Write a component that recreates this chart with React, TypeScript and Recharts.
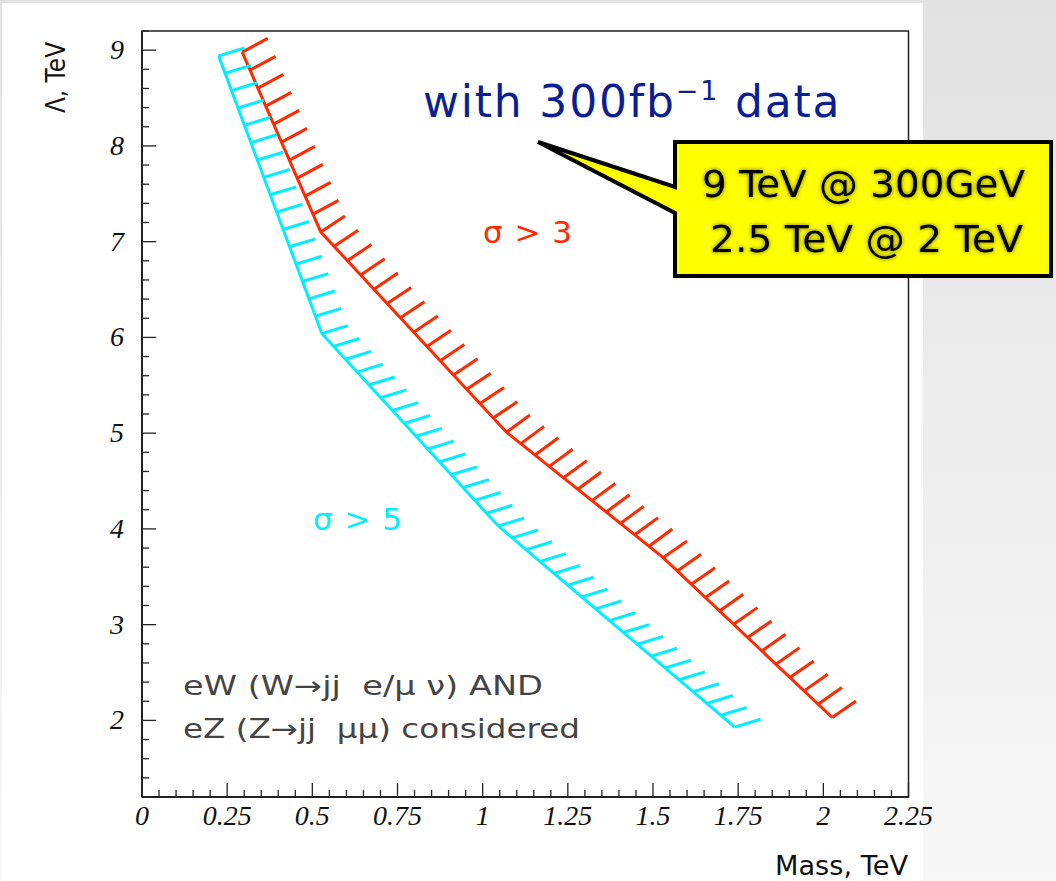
import { LineChart, Line, XAxis, YAxis, ReferenceArea } from "recharts";

// axis layout
const xDomain: [number, number] = [0, 2.25];
const yDomain: [number, number] = [1.2, 9.2];
const xMajorTicks = [0, 0.25, 0.5, 0.75, 1, 1.25, 1.5, 1.75, 2, 2.25];
const yMajorTicks = [2, 3, 4, 5, 6, 7, 8, 9];

// sigma > 3 exclusion line (red)
const sigma3Mass = [0.294, 0.525, 1.07, 1.53, 2.026];
const sigma3Lambda = [8.98, 7.1, 5.01, 3.7, 2.03];

// sigma > 5 exclusion line (cyan)
const sigma5Mass = [0.225, 0.528, 1.046, 1.74];
const sigma5Lambda = [8.94, 6.04, 4.03, 1.93];

const RED = "#ff2a00";
const CYAN = "#00eeff";

// 5 minor divisions per major step
const xTicks = [0, ...xMajorTicks.slice(1).flatMap((t, i) => {
  const prev = xMajorTicks[i];
  return [1, 2, 3, 4, 5].map((k) => +(prev + ((t - prev) * k) / 5).toFixed(3));
})];
const yTicks = Array.from({ length: 41 }, (_, i) => +(yDomain[0] + i * 0.2).toFixed(2));

const isMajor = (v: number, majors: number[]) => majors.some((t) => Math.abs(t - v) < 1e-6);

function XTick(props: any) {
  const { x, y, payload } = props;
  const major = isMajor(payload.value, xMajorTicks);
  return (
    <g>
      <line x1={x} x2={x} y1={y} y2={y - (major ? 14 : 7)} stroke="#222" strokeWidth={1.3} />
      {major && (
        <text x={x} y={y + 28} textAnchor="middle" fontFamily="Liberation Serif" fontStyle="italic" fontSize={28} fill="#111">
          {payload.value}
        </text>
      )}
    </g>
  );
}

function YTick(props: any) {
  const { x, y, payload } = props;
  const major = isMajor(payload.value, yMajorTicks);
  return (
    <g>
      <line x1={x} x2={x + (major ? 14 : 7)} y1={y} y2={y} stroke="#222" strokeWidth={1.3} />
      {major && (
        <text x={x - 18} y={y + 9} textAnchor="end" fontFamily="Liberation Serif" fontStyle="italic" fontSize={28} fill="#111">
          {payload.value}
        </text>
      )}
    </g>
  );
}

// hatches on the excluded side, drawn from the line's own pixel points
function hatchDot(color: string, angleDeg: number, perpWeight: number, len: number, spacing: number) {
  const a = (angleDeg * Math.PI) / 180;
  return (props: any) => {
    const { index, points } = props;
    if (!points || !points[index]) return <g key={props.key} />;
    const p = points[index];
    const q = points[index + 1];
    const segFrom = q ? p : points[index - 1];
    const segTo = q ? q : p;
    const dx = segTo.x - segFrom.x;
    const dy = segTo.y - segFrom.y;
    const L = Math.hypot(dx, dy) || 1;
    let hx = perpWeight * (dy / L) + (1 - perpWeight) * Math.cos(a);
    let hy = perpWeight * (-dx / L) - (1 - perpWeight) * Math.sin(a);
    const hl = Math.hypot(hx, hy);
    hx /= hl;
    hy /= hl;
    const starts: { x: number; y: number }[] = [];
    if (q) {
      const n = Math.max(1, Math.round(L / spacing));
      for (let k = 0; k < n; k++) starts.push({ x: p.x + (dx * k) / n, y: p.y + (dy * k) / n });
    } else {
      starts.push({ x: p.x, y: p.y });
    }
    return (
      <g key={props.key}>
        {starts.map((s, i) => (
          <line key={i} x1={s.x} y1={s.y} x2={s.x + hx * len} y2={s.y + hy * len} stroke={color} strokeWidth={3} />
        ))}
      </g>
    );
  };
}

const sigma3Data = sigma3Mass.map((x, i) => ({ x, y: sigma3Lambda[i] }));
const sigma5Data = sigma5Mass.map((x, i) => ({ x, y: sigma5Lambda[i] }));

const sans = "'DejaVu Sans', 'Noto Sans', sans-serif";
const nb = "\u00a0";

export default function App() {
  return (
    <div
      style={{
        position: "absolute",
        left: 0,
        top: 0,
        width: 1056,
        height: 881,
        overflow: "hidden",
        background: "linear-gradient(to bottom, #e2e2e2, #f8f8f8)",
      }}
    >
      <div style={{ position: "absolute", left: 2, top: 3, width: 921, height: 878, background: "#fff" }} />
      <div style={{ position: "absolute", left: 0, top: 0 }}>
        <LineChart width={1056} height={881} margin={{ top: 31, right: 147.5, bottom: 83, left: 141 }}>
          <XAxis
            type="number"
            dataKey="x"
            domain={xDomain}
            ticks={xTicks}
            interval={0}
            height={1}
            tickSize={0}
            tickMargin={0}
            tick={(p: any) => <XTick {...p} />}
            axisLine={{ stroke: "#222", strokeWidth: 2 }}
            tickLine={false}
            allowDataOverflow
          />
          <YAxis
            type="number"
            dataKey="y"
            domain={yDomain}
            ticks={yTicks}
            interval={0}
            width={1}
            tickSize={0}
            tickMargin={0}
            tick={(p: any) => <YTick {...p} />}
            axisLine={{ stroke: "#222", strokeWidth: 2 }}
            tickLine={false}
            allowDataOverflow
          />
          <ReferenceArea x1={xDomain[0]} x2={xDomain[1]} y1={yDomain[0]} y2={yDomain[1]} fill="none" stroke="#222" strokeWidth={1.5} fillOpacity={0} />
          <Line
            data={sigma3Data}
            dataKey="y"
            type="linear"
            stroke={RED}
            strokeWidth={3}
            dot={hatchDot(RED, 30, 0.3, 29, 19)}
            activeDot={false}
            isAnimationActive={false}
          />
          <Line
            data={sigma5Data}
            dataKey="y"
            type="linear"
            stroke={CYAN}
            strokeWidth={3}
            dot={hatchDot(CYAN, 17, 0, 27, 18)}
            activeDot={false}
            isAnimationActive={false}
          />
        </LineChart>
      </div>
      <svg width={1056} height={881} style={{ position: "absolute", left: 0, top: 0, pointerEvents: "none" }}>
        <defs>
          <filter id="glow" x="-10%" y="-30%" width="120%" height="160%">
            <feDropShadow dx="0" dy="0" stdDeviation="2.2" floodColor="#000" floodOpacity="0.6" />
          </filter>
        </defs>
        <text x={65} y={113} transform="rotate(-90 65 113)" fontFamily={sans} fontSize={26} fill="#111" textLength={71} lengthAdjust="spacingAndGlyphs">
          Λ, TeV
        </text>
        <text x={775} y={875} fontFamily={sans} fontSize={26} fill="#111" textLength={133} lengthAdjust="spacingAndGlyphs">
          Mass, TeV
        </text>
        <text x={423} y={117} fontFamily={sans} fontSize={44} fill="#0b1f91" letterSpacing={1.8}>
          with 300fb<tspan dy={-17} fontSize={27}>−1</tspan>
          <tspan dy={17}> data</tspan>
        </text>
        <path
          d="M675,142 L1051,142 L1051,276 L675,276 L675,213 L538,142 L675,187 Z"
          fill="#ffff00"
          stroke="#000"
          strokeWidth={4}
          strokeLinejoin="miter"
        />
        <g filter="url(#glow)" fontFamily={sans} fontSize={37} fill="#000">
          <text x={702} y={197} textLength={323} lengthAdjust="spacingAndGlyphs">{`9 TeV @ 300GeV`}</text>
          <text x={710} y={252} textLength={313} lengthAdjust="spacingAndGlyphs">{`2.5 TeV @ 2 TeV`}</text>
        </g>
        <text x={483} y={243} fontFamily={sans} fontSize={31} fill={RED} textLength={89} lengthAdjust="spacing">
          σ &gt; 3
        </text>
        <text x={313} y={530} fontFamily={sans} fontSize={31} fill={CYAN} textLength={89} lengthAdjust="spacing">
          σ &gt; 5
        </text>
        <g fontFamily={sans} fontSize={26} fill="#444">
          <text x={183} y={695} textLength={360} lengthAdjust="spacingAndGlyphs">{`eW (W→jj${nb}${nb}e/μ ν) AND`}</text>
          <text x={183} y={738} textLength={397} lengthAdjust="spacingAndGlyphs">{`eZ (Z→jj${nb}${nb}μμ) considered`}</text>
        </g>
      </svg>
    </div>
  );
}
